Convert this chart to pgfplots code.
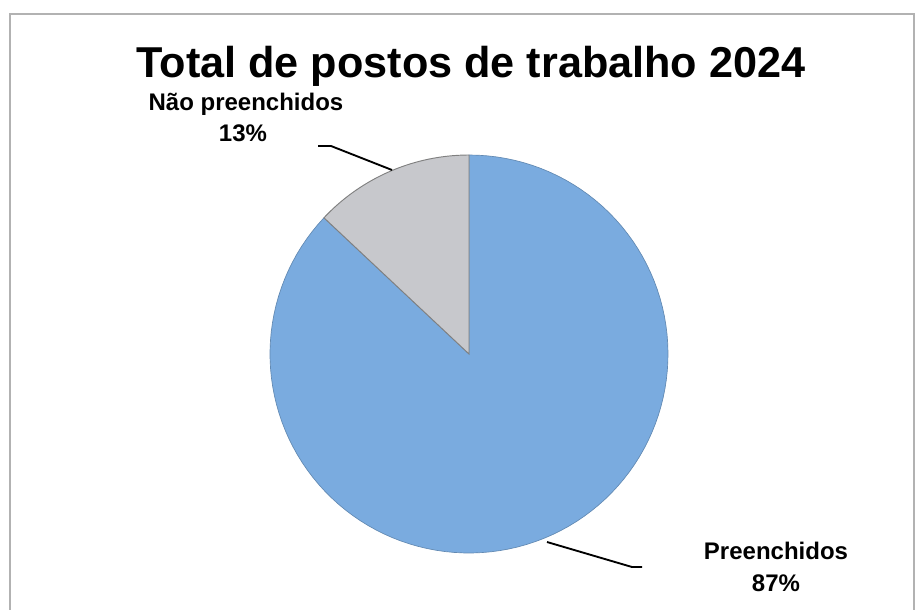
\documentclass[border=0pt]{standalone}
\usepackage{pgfplots}
\usepackage{pgfplotstable}
\pgfplotsset{compat=1.18}
\usepackage{fontspec}
\setmainfont{Liberation Sans}
\definecolor{pieblue}{HTML}{7AABDF}
\definecolor{piegray}{HTML}{C7C8CC}
\pgfplotstableread{
label value
Preenchidos 87
Nao 13
}\piedata
\begin{document}%
\pgfplotstablegetelem{1}{value}\of\piedata%
\pgfmathsetmacro\angA{90+3.6*\pgfplotsretval}%
\begin{tikzpicture}
\begin{axis}[
  width=687.75pt, height=457.5pt, scale only axis,
  xmin=0, xmax=917, ymin=0, ymax=610,
  hide axis, clip=false,
]
% page extent
\addplot[draw=none, forget plot] coordinates {(0,0) (917,610)};
% frame
\addplot[draw=black!30, line width=0.8pt] coordinates {(10,0.5) (10,596) (914,596) (914,0.5)};
% slices
\addplot[fill=pieblue, draw=pieblue!80!black, line width=0.5pt, domain=\angA:450, samples=120, variable=\t]
  ({469+199*cos(\t)},{256+199*sin(\t)}) -- (axis cs:469,256) -- cycle;
\addplot[fill=piegray, draw=black!50, line width=0.7pt, domain=90:\angA, samples=40, variable=\t]
  ({469+199*cos(\t)},{256+199*sin(\t)}) -- (axis cs:469,256) -- cycle;
% leader lines
\addplot[black, line width=1.4pt] coordinates {(318,464) (331,464) (392,440)};
\addplot[black, line width=1.4pt] coordinates {(547,68) (632,43) (642,43)};
% texts
\node[anchor=base, font=\fontsize{32.4}{36}\selectfont\bfseries] at (axis cs:471,532) {Total de postos de trabalho 2024};
\node[anchor=base, font=\fontsize{18}{20}\selectfont\bfseries] at (axis cs:246,499) {Não preenchidos};
\node[anchor=base, font=\fontsize{18}{20}\selectfont\bfseries] at (axis cs:243,469) {13\%};
\node[anchor=base, font=\fontsize{18}{20}\selectfont\bfseries] at (axis cs:776,51) {Preenchidos};
\node[anchor=base, font=\fontsize{18}{20}\selectfont\bfseries] at (axis cs:776,19) {87\%};
\end{axis}
\end{tikzpicture}%
\end{document}
